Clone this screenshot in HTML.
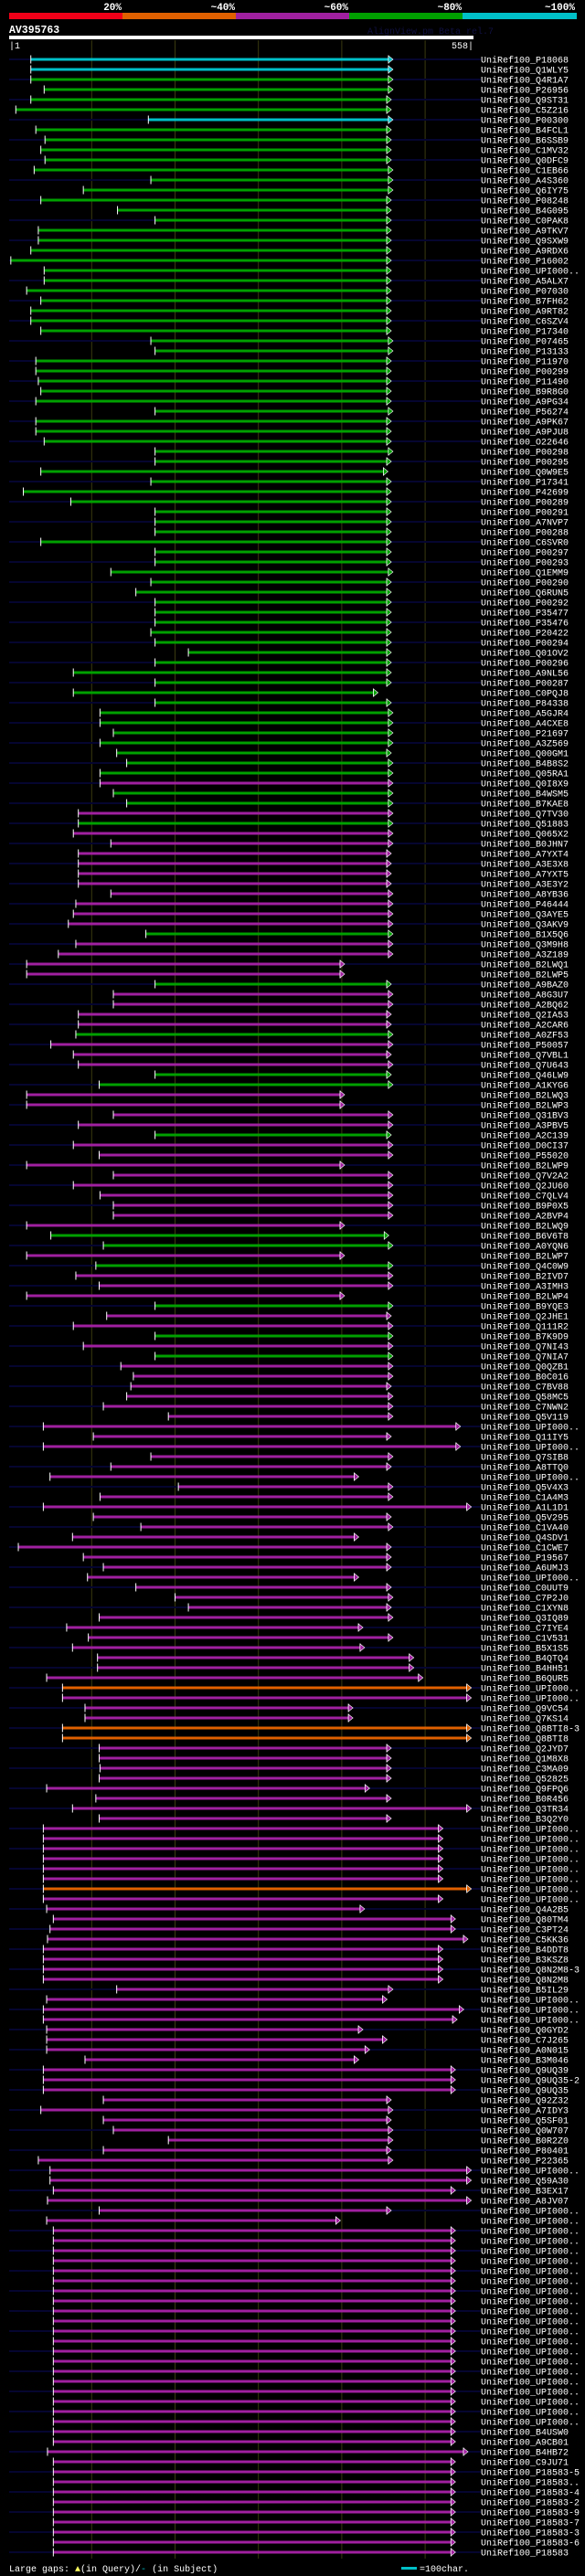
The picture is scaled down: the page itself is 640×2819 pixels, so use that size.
<!DOCTYPE html>
<html><head><meta charset="utf-8"><style>
html,body{margin:0;padding:0;background:#000;}
svg{display:block;}
text{font-family:"Liberation Mono","DejaVu Sans Mono",monospace;}
</style></head><body>
<svg id="chart" width="640" height="2819" viewBox="0 0 640 2819" xmlns="http://www.w3.org/2000/svg">
<rect x="0" y="0" width="640" height="2819" fill="#000"/>
<g>
<rect x="10" y="14" width="124" height="7" fill="#f00018"/>
<rect x="134" y="14" width="124" height="7" fill="#e06000"/>
<rect x="258" y="14" width="124" height="7" fill="#a020a0"/>
<rect x="382" y="14" width="124" height="7" fill="#00a000"/>
<rect x="506" y="14" width="125" height="7" fill="#00c0c8"/>
<text x="133" y="11" fill="#fff" font-size="11" font-weight="bold" text-anchor="end">20%</text>
<text x="257" y="11" fill="#fff" font-size="11" font-weight="bold" text-anchor="end">~40%</text>
<text x="381" y="11" fill="#fff" font-size="11" font-weight="bold" text-anchor="end">~60%</text>
<text x="505" y="11" fill="#fff" font-size="11" font-weight="bold" text-anchor="end">~80%</text>
<text x="629" y="11" fill="#fff" font-size="11" font-weight="bold" text-anchor="end">~100%</text>
</g>
<text x="10" y="36" fill="#fff" font-size="11.5" font-weight="bold">AV395763</text>
<text x="402" y="37" fill="#101040" font-size="10">AlignView.pm Beta rel.7</text>
<rect x="10" y="39" width="508" height="4" fill="#fff"/>
<text x="10" y="53" fill="#fff" font-size="10">|1</text>
<text x="518" y="53" fill="#fff" font-size="10" text-anchor="end">558|</text>
<g id="grid"></g>
<g id="rows"></g>
<text x="10" y="2814" fill="#fff" font-size="10">Large gaps: <tspan fill="#ffff60">▲</tspan>(in Query)/<tspan fill="#00c0c8">-</tspan> (in Subject)</text>
<rect x="439" y="2809" width="17" height="3" fill="#00c0c8"/>
<text x="459" y="2814" fill="#fff" font-size="10">=100char.</text>
</svg>
<script>
const gridTicks = [100, 200, 300, 400, 500];
const names = ["P18068","Q1WLY5","Q4R1A7","P26956","Q9ST31","C5Z216","P00300","B4FCL1","B6SSB9","C1MV32",
"Q0DFC9","C1EB66","A4S360","Q6IY75","P08248","B4G095","C0PAK8","A9TKV7","Q9SXW9","A9RDX6",
"P16002","UPI000..","A5ALX7","P07030","B7FH62","A9RT82","C6SZV4","P17340","P07465","P13133",
"P11970","P00299","P11490","B9R8G0","A9PG34","P56274","A9PK67","A9PJU8","O22646","P00298",
"P00295","Q0W9E5","P17341","P42699","P00289","P00291","A7NVP7","P00288","C6SVR0","P00297",
"P00293","Q1EMM9","P00290","Q6RUN5","P00292","P35477","P35476","P20422","P00294","Q01OV2",
"P00296","A9NL56","P00287","C0PQJ8","P84338","A5GJR4","A4CXE8","P21697","A3Z569","Q00GM1",
"B4B8S2","Q05RA1","Q0I8X9","B4WSM5","B7KAE8","Q7TV30","Q51883","Q065X2","B0JHN7","A7YXT4",
"A3E3X8","A7YXT5","A3E3Y2","A8YB36","P46444","Q3AYE5","Q3AKV9","B1X5Q6","Q3M9H8","A3Z189",
"B2LWQ1","B2LWP5","A9BAZ0","A8G3U7","A2BQ62","Q2IA53","A2CAR6","A0ZF53","P50057","Q7VBL1",
"Q7U643","Q46LW9","A1KYG6","B2LWQ3","B2LWP3","Q31BV3","A3PBV5","A2C139","D0CI37","P55020",
"B2LWP9","Q7V2A2","Q2JU60","C7QLV4","B9P0X5","A2BVP4","B2LWQ9","B6V6T8","A0YQN6","B2LWP7",
"Q4C0W9","B2IVD7","A3IMH3","B2LWP4","B9YQE3","Q2JHE1","Q111R2","B7K9D9","Q7NI43","Q7NIA7",
"Q0QZB1","B0C016","C7BV88","Q58MC5","C7NWN2","Q5V119","UPI000..","Q11IY5","UPI000..","Q7SIB8",
"A8TTQ0","UPI000..","Q5V4X3","C1A4M3","A1L1D1","Q5V295","C1VA40","Q4SDV1","C1CWE7","P19567",
"A6UMJ3","UPI000..","C0UUT9","C7P2J0","C1XYN8","Q3IQ89","C7IYE4","C1V531","B5X1S5","B4QTQ4",
"B4HH51","B6QUR5","UPI000..","UPI000..","Q9VC54","Q7KS14","Q8BTI8-3","Q8BTI8","Q2JYD7","Q1M8X8",
"C3MA09","Q52825","Q9FPQ6","B0R456","Q3TR34","B3Q2Y0","UPI000..","UPI000..","UPI000..","UPI000..",
"UPI000..","UPI000..","UPI000..","UPI000..","Q4A2B5","Q80TM4","C3PT24","C5KK36","B4DDT8","B3KSZ8",
"Q8N2M8-3","Q8N2M8","B5IL29","UPI000..","UPI000..","UPI000..","Q0GYD2","C7J265","A0N015","B3M046",
"Q9UQ39","Q9UQ35-2","Q9UQ35","Q92Z32","A7IDY3","Q5SF01","Q0W707","B0R2Z0","P80401","P22365",
"UPI000..","Q59A30","B3EX17","A8JV07","UPI000..","UPI000..","UPI000..","UPI000..","UPI000..","UPI000..",
"UPI000..","UPI000..","UPI000..","UPI000..","UPI000..","UPI000..","UPI000..","UPI000..","UPI000..","UPI000..",
"UPI000..","UPI000..","UPI000..","UPI000..","UPI000..","UPI000..","B4USW0","A9CB01","B4HB72","C9JU71",
"P18583-5","P18583..","P18583-4","P18583-2","P18583-9","P18583-7","P18583-3","P18583-6","P18583"];
const starts = [27,27,27,43,27,9,168,33,44,39,
44,31,171,90,39,131,176,36,36,27,
3,43,43,22,39,27,27,39,171,176,
33,33,36,39,33,176,33,33,43,176,
176,39,171,18,75,176,176,176,39,176,
176,123,171,153,176,176,176,171,176,216,
176,78,176,78,176,110,110,126,110,130,
142,110,110,126,142,84,84,78,123,84,
84,84,84,123,81,78,72,165,81,60,
22,22,176,126,126,84,84,81,51,78,
84,176,109,22,22,126,84,176,78,109,
22,126,78,110,126,126,22,51,114,22,
105,81,109,22,176,118,78,176,90,176,
135,150,147,142,114,192,42,102,42,171,
123,50,204,110,42,102,159,77,12,90,
114,95,153,200,216,109,70,96,77,107,
107,46,65,65,92,92,65,65,109,109,
110,109,46,105,77,109,42,42,42,42,
42,42,42,42,46,54,50,47,42,42,
42,42,130,46,42,42,46,46,46,92,
42,42,42,114,39,114,126,192,114,36,
50,50,54,47,109,46,54,54,54,54,
54,54,54,54,54,54,54,54,54,54,
54,54,54,54,54,54,54,54,47,54,
54,54,54,54,54,54,54,54,54];
const ends = [456,456,456,456,454,454,456,454,454,454,
454,456,456,456,454,454,454,454,454,454,
454,454,454,454,454,454,454,454,456,456,
454,454,454,454,454,456,454,454,454,456,
454,450,454,454,454,454,454,454,454,454,
454,456,454,454,454,454,454,454,454,454,
454,454,454,438,454,456,456,456,456,454,
456,456,456,456,456,456,456,456,456,454,
454,454,454,456,456,456,456,456,456,456,
398,398,454,456,456,454,454,456,456,454,
456,454,456,398,398,456,456,454,456,456,
398,456,456,456,456,456,398,451,456,398,
456,456,456,398,456,454,456,456,456,456,
456,456,454,456,456,456,537,454,537,456,
454,415,456,456,550,454,456,415,454,454,
454,415,454,456,454,456,420,456,422,481,
481,492,550,550,408,408,550,550,454,454,
454,454,428,454,550,454,516,516,516,516,
516,516,550,516,422,531,531,546,516,516,
516,516,456,449,541,533,420,449,428,415,
531,531,531,454,456,454,456,456,454,456,
550,550,531,550,454,393,531,531,531,531,
531,531,531,531,531,531,531,531,531,531,
531,531,531,531,531,531,531,531,546,531,
531,531,531,531,531,531,531,531,531];
const colorCodes = ["c","c","g","g","g","g","c","g","g","g",
"g","g","g","g","g","g","g","g","g","g",
"g","g","g","g","g","g","g","g","g","g",
"g","g","g","g","g","g","g","g","g","g",
"g","g","g","g","g","g","g","g","g","g",
"g","g","g","g","g","g","g","g","g","g",
"g","g","g","g","g","g","g","g","g","g",
"g","g","p","g","g","p","g","p","p","p",
"p","p","p","p","p","p","p","g","p","p",
"p","p","g","p","p","p","p","g","p","p",
"p","g","g","p","p","p","p","g","p","p",
"p","p","p","p","p","p","p","g","g","p",
"g","p","p","p","g","p","p","g","p","g",
"p","p","p","p","p","p","p","p","p","p",
"p","p","p","p","p","p","p","p","p","p",
"p","p","p","p","p","p","p","p","p","p",
"p","p","o","p","p","p","o","o","p","p",
"p","p","p","p","p","p","p","p","p","p",
"p","p","o","p","p","p","p","p","p","p",
"p","p","p","p","p","p","p","p","p","p",
"p","p","p","p","p","p","p","p","p","p",
"p","p","p","p","p","p","p","p","p","p",
"p","p","p","p","p","p","p","p","p","p",
"p","p","p","p","p","p","p","p","p","p",
"p","p","p","p","p","p","p","p","p"];
const palette = {c:"#00c0c8", g:"#00a000", p:"#a020a0", o:"#e06000"};
const QLEN = 558;
function xScale(r){ return 10 + (r - 1) * (508 / (QLEN - 1)); }
function yRow(i){ return 65 + i * 11; }
const NS = "http://www.w3.org/2000/svg";
function mk(tag, attrs){ const e = document.createElementNS(NS, tag); for (const k in attrs) e.setAttribute(k, attrs[k]); return e; }
const grid = document.getElementById('grid');
gridTicks.forEach(t => {
  const l = mk('line', {x1: xScale(t), x2: xScale(t), y1: 44, y2: 2800, stroke: '#3a3a10', 'stroke-width': 1});
  
  
  grid.appendChild(l);
});
const rows = document.getElementById('rows');
names.forEach((n, i) => {
  const y = yRow(i);
  const g = mk('g', {});
  
  
  if (i % 2 === 0) {
    const bg = mk('rect', {x: 10, y: y - 1, width: 516, height: 2, fill: '#050530'});
    
    
    g.appendChild(bg);
  }
  const x1 = xScale(starts[i]), x2 = xScale(ends[i]);
  const col = palette[colorCodes[i]];
  const bar = mk('rect', {x: x1, y: y - 1.5, width: x2 - x1, height: 3, fill: col});
  
  
  g.appendChild(bar);
  const st = mk('rect', {x: x1 - 0.5, y: y - 4.5, width: 1, height: 9, fill: '#fff'});
  
  
  g.appendChild(st);
  const en = mk('rect', {x: x2 - 0.5, y: y - 4.5, width: 1, height: 9, fill: '#fff'});
  
  
  g.appendChild(en);
  const ar = mk('polygon', {points: `${x2},${y-4} ${x2+5},${y} ${x2},${y+4}`, fill: col, stroke: '#fff', 'stroke-width': 0.6});
  
  
  g.appendChild(ar);
  const tx = mk('text', {x: 526, y: y + 3.5, fill: '#fff', 'font-size': 10});
  tx.textContent = 'UniRef100_' + n;
  
  
  g.appendChild(tx);
  rows.appendChild(g);
});
</script>
</body></html>
